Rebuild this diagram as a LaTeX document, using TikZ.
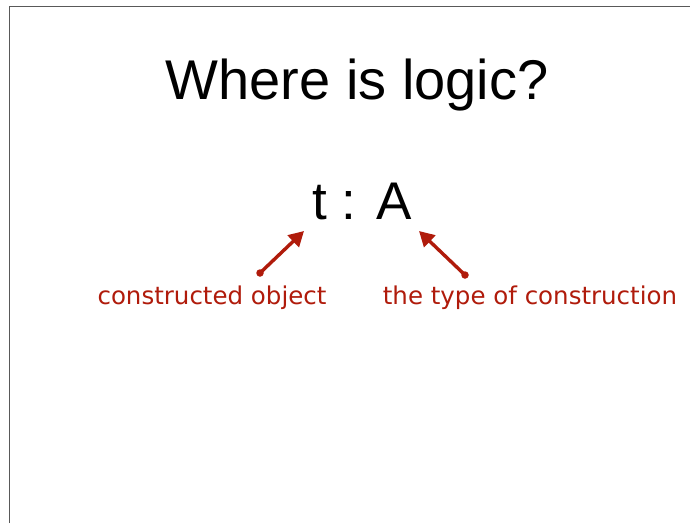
\documentclass[tikz,border=0pt]{standalone}
\usepackage{fontspec}
\setmainfont{Liberation Sans}
\newfontfamily\labelfont{DejaVu Sans}
\usetikzlibrary{arrows.meta}
\definecolor{annred}{HTML}{B01B0B}
\begin{document}
\begin{tikzpicture}[x=1pt,y=-1pt,
  lbl/.style={text=annred,font=\labelfont\fontsize{24.5}{28}\selectfont,inner sep=0pt,anchor=base},
  ann/.style={draw=annred,line width=3.4pt,-{Triangle[length=15pt,width=16pt]}},
  dot/.style={fill=annred,circle,inner sep=0pt,minimum size=7.5pt}]
\useasboundingbox (0,0) rectangle (690,523);
\fill[white] (0,0) rectangle (690,523);
\draw[line width=1pt,gray!70!black] (9.5,523) -- (9.5,6.5) -- (690,6.5);
\node[inner sep=0pt,anchor=base,font=\fontsize{56}{60}\selectfont] (title) at (357,99) {Where is logic?};
\node[inner sep=0pt,anchor=base,font=\fontsize{53}{58}\selectfont] (ta) at (362,219.5) {t : A};
\node[lbl] (obj) at (212,304) {constructed object};
\node[lbl] (typ) at (530,304) {the type of construction};
\node[dot] (s1) at (260,273) {};
\coordinate (e1) at (304,231);
\node[dot] (s2) at (465,275) {};
\coordinate (e2) at (419,231);
\draw[ann] (s1.center) -- (e1);
\draw[ann] (s2.center) -- (e2);
\end{tikzpicture}
\end{document}
